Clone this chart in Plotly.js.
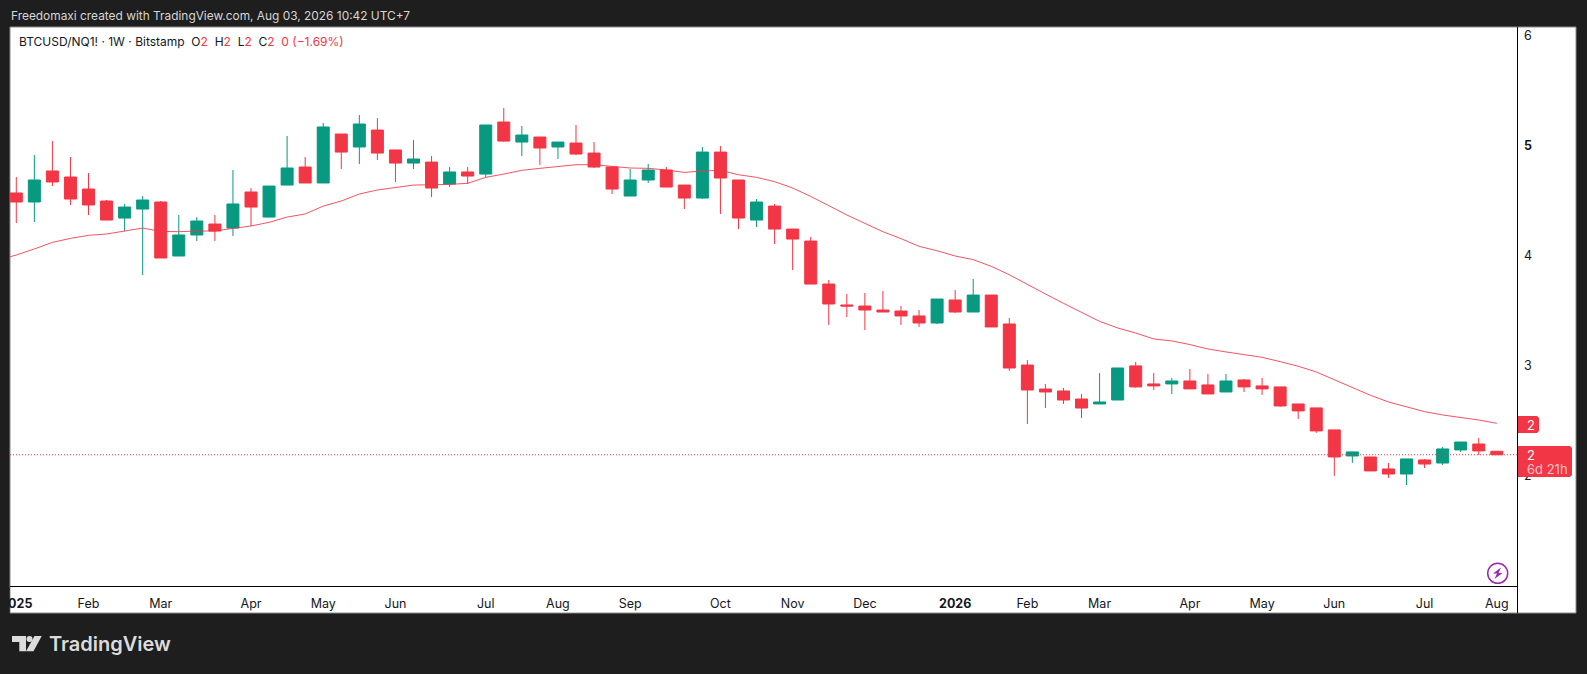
<!DOCTYPE html>
<html>
<head>
<meta charset="utf-8">
<script src="https://cdn.plot.ly/plotly-3.0.1.min.js"></script>
<style>
  html, body { margin: 0; padding: 0; background: #1e1e1e; }
  #chart { width: 1587px; height: 674px; }
</style>
</head>
<body>
<div id="chart"></div>
<script>
const weeks = [
  '2025-01-06','2025-01-13','2025-01-20','2025-01-27','2025-02-03','2025-02-10','2025-02-17','2025-02-24',
  '2025-03-03','2025-03-10','2025-03-17','2025-03-24','2025-03-31','2025-04-07','2025-04-14','2025-04-21',
  '2025-04-28','2025-05-05','2025-05-12','2025-05-19','2025-05-26','2025-06-02','2025-06-09','2025-06-16',
  '2025-06-23','2025-06-30','2025-07-07','2025-07-14','2025-07-21','2025-07-28','2025-08-04','2025-08-11',
  '2025-08-18','2025-08-25','2025-09-01','2025-09-08','2025-09-15','2025-09-22','2025-09-29','2025-10-06',
  '2025-10-13','2025-10-20','2025-10-27','2025-11-03','2025-11-10','2025-11-17','2025-11-24','2025-12-01',
  '2025-12-08','2025-12-15','2025-12-22','2025-12-29','2026-01-05','2026-01-12','2026-01-19','2026-01-26',
  '2026-02-02','2026-02-09','2026-02-16','2026-02-23','2026-03-02','2026-03-09','2026-03-16','2026-03-23',
  '2026-03-30','2026-04-06','2026-04-13','2026-04-20','2026-04-27','2026-05-04','2026-05-11','2026-05-18',
  '2026-05-25','2026-06-01','2026-06-08','2026-06-15','2026-06-22','2026-06-29','2026-07-06','2026-07-13',
  '2026-07-20','2026-07-27','2026-08-03'
];

const opens = [
  4.570,4.488,4.770,4.715,4.606,4.497,4.342,4.424,4.488,3.997,4.188,4.288,4.251,4.579,4.351,4.642,4.806,
  4.661,5.106,4.988,5.142,4.961,4.842,4.851,4.651,4.761,4.742,5.215,5.033,5.079,4.988,5.024,4.933,4.806,
  4.542,4.688,4.779,4.642,4.524,4.942,4.688,4.324,4.451,4.242,4.133,3.742,3.552,3.542,3.506,3.497,3.452,
  3.388,3.597,3.488,3.642,3.379,3.006,2.788,2.770,2.697,2.652,2.688,2.998,2.834,2.834,2.861,2.825,2.761,
  2.870,2.816,2.807,2.652,2.616,2.416,2.179,2.170,2.061,2.015,2.143,2.115,2.234,2.288,2.222
];
const highs = [
  4.715,4.915,5.042,4.897,4.751,4.506,4.470,4.542,4.497,4.370,4.351,4.370,4.779,4.615,4.633,5.088,4.897,
  5.206,5.106,5.279,5.251,4.961,5.051,4.906,4.806,4.806,5.188,5.342,5.179,5.079,5.033,5.188,5.033,4.815,
  4.788,4.833,4.806,4.642,4.988,4.997,4.688,4.515,4.470,4.242,4.170,3.779,3.652,3.661,3.679,3.542,3.506,
  3.606,3.688,3.788,3.642,3.433,3.052,2.833,2.797,2.742,2.933,2.979,3.034,2.934,2.889,2.970,2.925,2.925,
  2.879,2.889,2.807,2.652,2.616,2.416,2.216,2.170,2.115,2.152,2.152,2.261,2.306,2.343,2.222
];
const lows = [
  4.297,4.306,4.633,4.461,4.370,4.324,4.221,3.824,3.979,3.997,4.133,4.133,4.179,4.270,4.351,4.642,4.661,
  4.661,4.788,4.833,4.870,4.670,4.788,4.533,4.624,4.651,4.715,5.033,4.906,4.824,4.879,4.915,4.797,4.561,
  4.542,4.661,4.624,4.424,4.515,4.379,4.242,4.261,4.106,3.870,3.742,3.370,3.442,3.324,3.488,3.370,3.352,
  3.379,3.479,3.488,3.352,2.952,2.470,2.615,2.652,2.524,2.652,2.688,2.798,2.779,2.743,2.789,2.743,2.761,
  2.761,2.734,2.625,2.516,2.389,1.998,2.116,2.043,1.979,1.915,2.070,2.097,2.215,2.188,2.190
];
const closes = [
  4.488,4.688,4.670,4.515,4.461,4.324,4.442,4.506,3.979,4.188,4.315,4.224,4.470,4.442,4.633,4.797,4.661,
  5.170,4.942,5.197,4.933,4.842,4.879,4.615,4.761,4.724,5.188,5.042,5.097,4.979,5.033,4.924,4.806,4.606,
  4.688,4.779,4.624,4.524,4.942,4.706,4.342,4.488,4.242,4.151,3.742,3.561,3.542,3.506,3.488,3.452,3.388,
  3.606,3.488,3.642,3.352,2.979,2.779,2.761,2.688,2.615,2.670,2.979,2.807,2.816,2.861,2.789,2.743,2.861,
  2.807,2.789,2.634,2.589,2.407,2.170,2.216,2.043,2.015,2.152,2.106,2.243,2.306,2.225,2.190
];

// moving average, starts one week before the first visible bar
const maWeeks = ['2024-12-30'].concat(weeks);
const maValues = [
  3.961,4.006,4.061,4.121,4.157,4.185,4.197,4.221,4.251,4.221,4.218,4.224,4.224,4.248,4.270,4.303,4.351,
  4.379,4.451,4.497,4.561,4.597,4.618,4.642,4.645,4.648,4.658,4.712,4.742,4.776,4.794,4.812,4.827,4.827,
  4.809,4.797,4.794,4.779,4.757,4.770,4.776,4.736,4.712,4.673,4.615,4.539,4.455,4.370,4.294,4.218,4.155,
  4.085,4.045,3.997,3.964,3.903,3.827,3.736,3.652,3.567,3.488,3.403,3.343,3.297,3.243,3.225,3.192,3.152,
  3.125,3.101,3.076,3.037,2.995,2.943,2.873,2.805,2.731,2.670,2.628,2.582,2.552,2.531,2.506,2.476
];

const monthTicks = [
  '2025-01-06','2025-02-03','2025-03-03','2025-04-07','2025-05-05','2025-06-02','2025-07-07','2025-08-04',
  '2025-09-01','2025-10-06','2025-11-03','2025-12-01','2026-01-05','2026-02-02','2026-03-02','2026-04-06',
  '2026-05-04','2026-06-01','2026-07-06','2026-08-03'
];
const monthLabels = [
  '<b>2025</b>','Feb','Mar','Apr','May','Jun','Jul','Aug','Sep','Oct','Nov','Dec',
  '<b>2026</b>','Feb','Mar','Apr','May','Jun','Jul','Aug'
];
const priceTicks = [2, 3, 4, 5, 6];
const priceLabels = ['2', '3', '4', '<b>5</b>', '6'];

const RED = '#F23645';
const GREEN = '#089981';
const DARK = '#1e1e1e';
const FONT = 'Inter, "Noto Sans", sans-serif';

// page pixels to paper fractions, the plot area is x 10..1517, y 27..586
const px = x => (x - 10) / 1507;
const py = y => (586 - y) / 559;

function pathOf(points) {
  return 'M' + points.map(p => px(p[0]) + ',' + py(p[1])).join('L') + 'Z';
}

function paperRect(x0, y0, x1, y1, fill, layer, line) {
  return {
    type: 'rect', xref: 'paper', yref: 'paper', layer: layer,
    x0: px(x0), x1: px(x1), y0: py(y0), y1: py(y1),
    fillcolor: fill, line: line || {width: 0}
  };
}

function paperLine(x0, y0, x1, y1, color) {
  return {
    type: 'line', xref: 'paper', yref: 'paper', layer: 'above',
    x0: px(x0), x1: px(x1), y0: py(y0), y1: py(y1),
    line: {color: color, width: 1}
  };
}

function label(x0, y0, x1, y1) {
  // red price tag with rounded right corners
  return {
    type: 'path', xref: 'paper', yref: 'paper', layer: 'above',
    path: pathOf([[x0, y0], [x1 - 2, y0], [x1, y0 + 2], [x1, y1 - 2], [x1 - 2, y1], [x0, y1]]),
    fillcolor: RED, line: {width: 0}
  };
}

const shapes = [
  // white frame around the chart
  paperRect(10, 27, 1576, 613, '#ffffff', 'below', {color: '#8a8a8a', width: 1}),
  // cover for the part of the 2025 label left of the frame
  paperRect(0, 587, 9.5, 613, DARK, 'above'),
  paperLine(1517.5, 27, 1517.5, 613, '#000000'),
  // last price line
  {
    type: 'line', xref: 'paper', yref: 'y', layer: 'above',
    x0: 0, x1: 1, y0: closes[closes.length - 1], y1: closes[closes.length - 1],
    line: {color: RED, width: 1, dash: '1px,2px'}
  },
  label(1518, 416, 1539, 433),
  label(1518, 446, 1572, 477),
  // flash icon
  {
    type: 'circle', xref: 'paper', yref: 'paper', layer: 'above',
    x0: px(1487.7), x1: px(1507.7), y0: py(563.3), y1: py(583.3),
    line: {color: '#9C27B0', width: 1.5}, fillcolor: 'rgba(0,0,0,0)'
  },
  {
    type: 'path', xref: 'paper', yref: 'paper', layer: 'above',
    path: pathOf([[1501, 567.5], [1493, 573.5], [1497, 573.5], [1494.5, 579], [1502.5, 573], [1498.5, 573]]),
    fillcolor: '#9C27B0', line: {width: 0}
  },
  // TradingView logo
  {
    type: 'path', xref: 'paper', yref: 'paper', layer: 'above',
    path: pathOf([[12, 636], [26, 636], [26, 651.3], [19.3, 651.3], [19.3, 642], [12, 642]]),
    fillcolor: '#dcdcdc', line: {width: 0}
  },
  {
    type: 'circle', xref: 'paper', yref: 'paper', layer: 'above',
    x0: px(26.5), x1: px(32.5), y0: py(636), y1: py(642),
    fillcolor: '#dcdcdc', line: {width: 0}
  },
  {
    type: 'path', xref: 'paper', yref: 'paper', layer: 'above',
    path: pathOf([[34.5, 636], [41.7, 636], [33.5, 651.3], [26, 651.3]]),
    fillcolor: '#dcdcdc', line: {width: 0}
  }
];

const legendText = 'BTCUSD/NQ1! · 1W · Bitstamp  O<span style="color:' + RED + '">2</span>  H<span style="color:' + RED +
  '">2</span>  L<span style="color:' + RED + '">2</span>  C<span style="color:' + RED + '">2  0 (−1.69%)</span>';

function note(x, y, text, size, color, anchor, weight) {
  return {
    xref: 'paper', yref: 'paper', x: px(x), y: py(y), text: text, showarrow: false,
    xanchor: anchor || 'left', yanchor: 'middle', borderpad: 0,
    font: {family: FONT, size: size, color: color, weight: weight || 400}
  };
}

const annotations = [
  note(10, 15, 'Freedomaxi created with TradingView.com, Aug 03, 2026 10:42 UTC+7', 11.9, '#d6d6d6'),
  note(18, 42, legendText, 12, '#131722'),
  note(1526, 424.5, '2', 13, '#ffffff'),
  note(1526, 454.5, '2', 13, '#ffffff'),
  note(1526, 468.5, '6d 21h', 13, 'rgba(255,255,255,0.7)'),
  note(48, 644, 'TradingView', 20, '#dcdcdc', 'left', 600)
];

const candles = {
  type: 'candlestick',
  x: weeks, open: opens, high: highs, low: lows, close: closes,
  increasing: {line: {color: GREEN, width: 1}, fillcolor: GREEN},
  decreasing: {line: {color: RED, width: 1}, fillcolor: RED},
  hoverinfo: 'skip'
};

const maLine = {
  type: 'scatter', mode: 'lines',
  x: maWeeks, y: maValues,
  line: {color: RED, width: 1},
  opacity: 0.85,
  hoverinfo: 'skip'
};

const layout = {
  width: 1587,
  height: 674,
  margin: {l: 10, r: 70, t: 27, b: 88, pad: 0},
  paper_bgcolor: DARK,
  plot_bgcolor: '#ffffff',
  showlegend: false,
  boxgap: 0.335,
  boxgroupgap: 0,
  font: {family: FONT, size: 13, color: '#131722'},
  xaxis: {
    type: 'date',
    range: ['2025-01-03 13:27', '2026-08-10 20:00'],
    rangeslider: {visible: false},
    tickmode: 'array', tickvals: monthTicks, ticktext: monthLabels,
    tickangle: 0, ticks: '', showgrid: false, zeroline: false,
    showline: true, linecolor: '#000000', linewidth: 1,
    tickfont: {family: FONT, size: 12.5, color: '#131722'},
    ticklabelstandoff: 6
  },
  yaxis: {
    side: 'right',
    range: [0.997, 6.079],
    tickmode: 'array', tickvals: priceTicks, ticktext: priceLabels,
    ticks: '', showgrid: false, zeroline: false, showline: false,
    tickfont: {family: FONT, size: 12.5, color: '#131722'},
    ticklabelstandoff: 6
  },
  shapes: shapes,
  annotations: annotations
};

Plotly.newPlot('chart', [maLine, candles], layout, {staticPlot: true, displayModeBar: false});
</script>
</body>
</html>
